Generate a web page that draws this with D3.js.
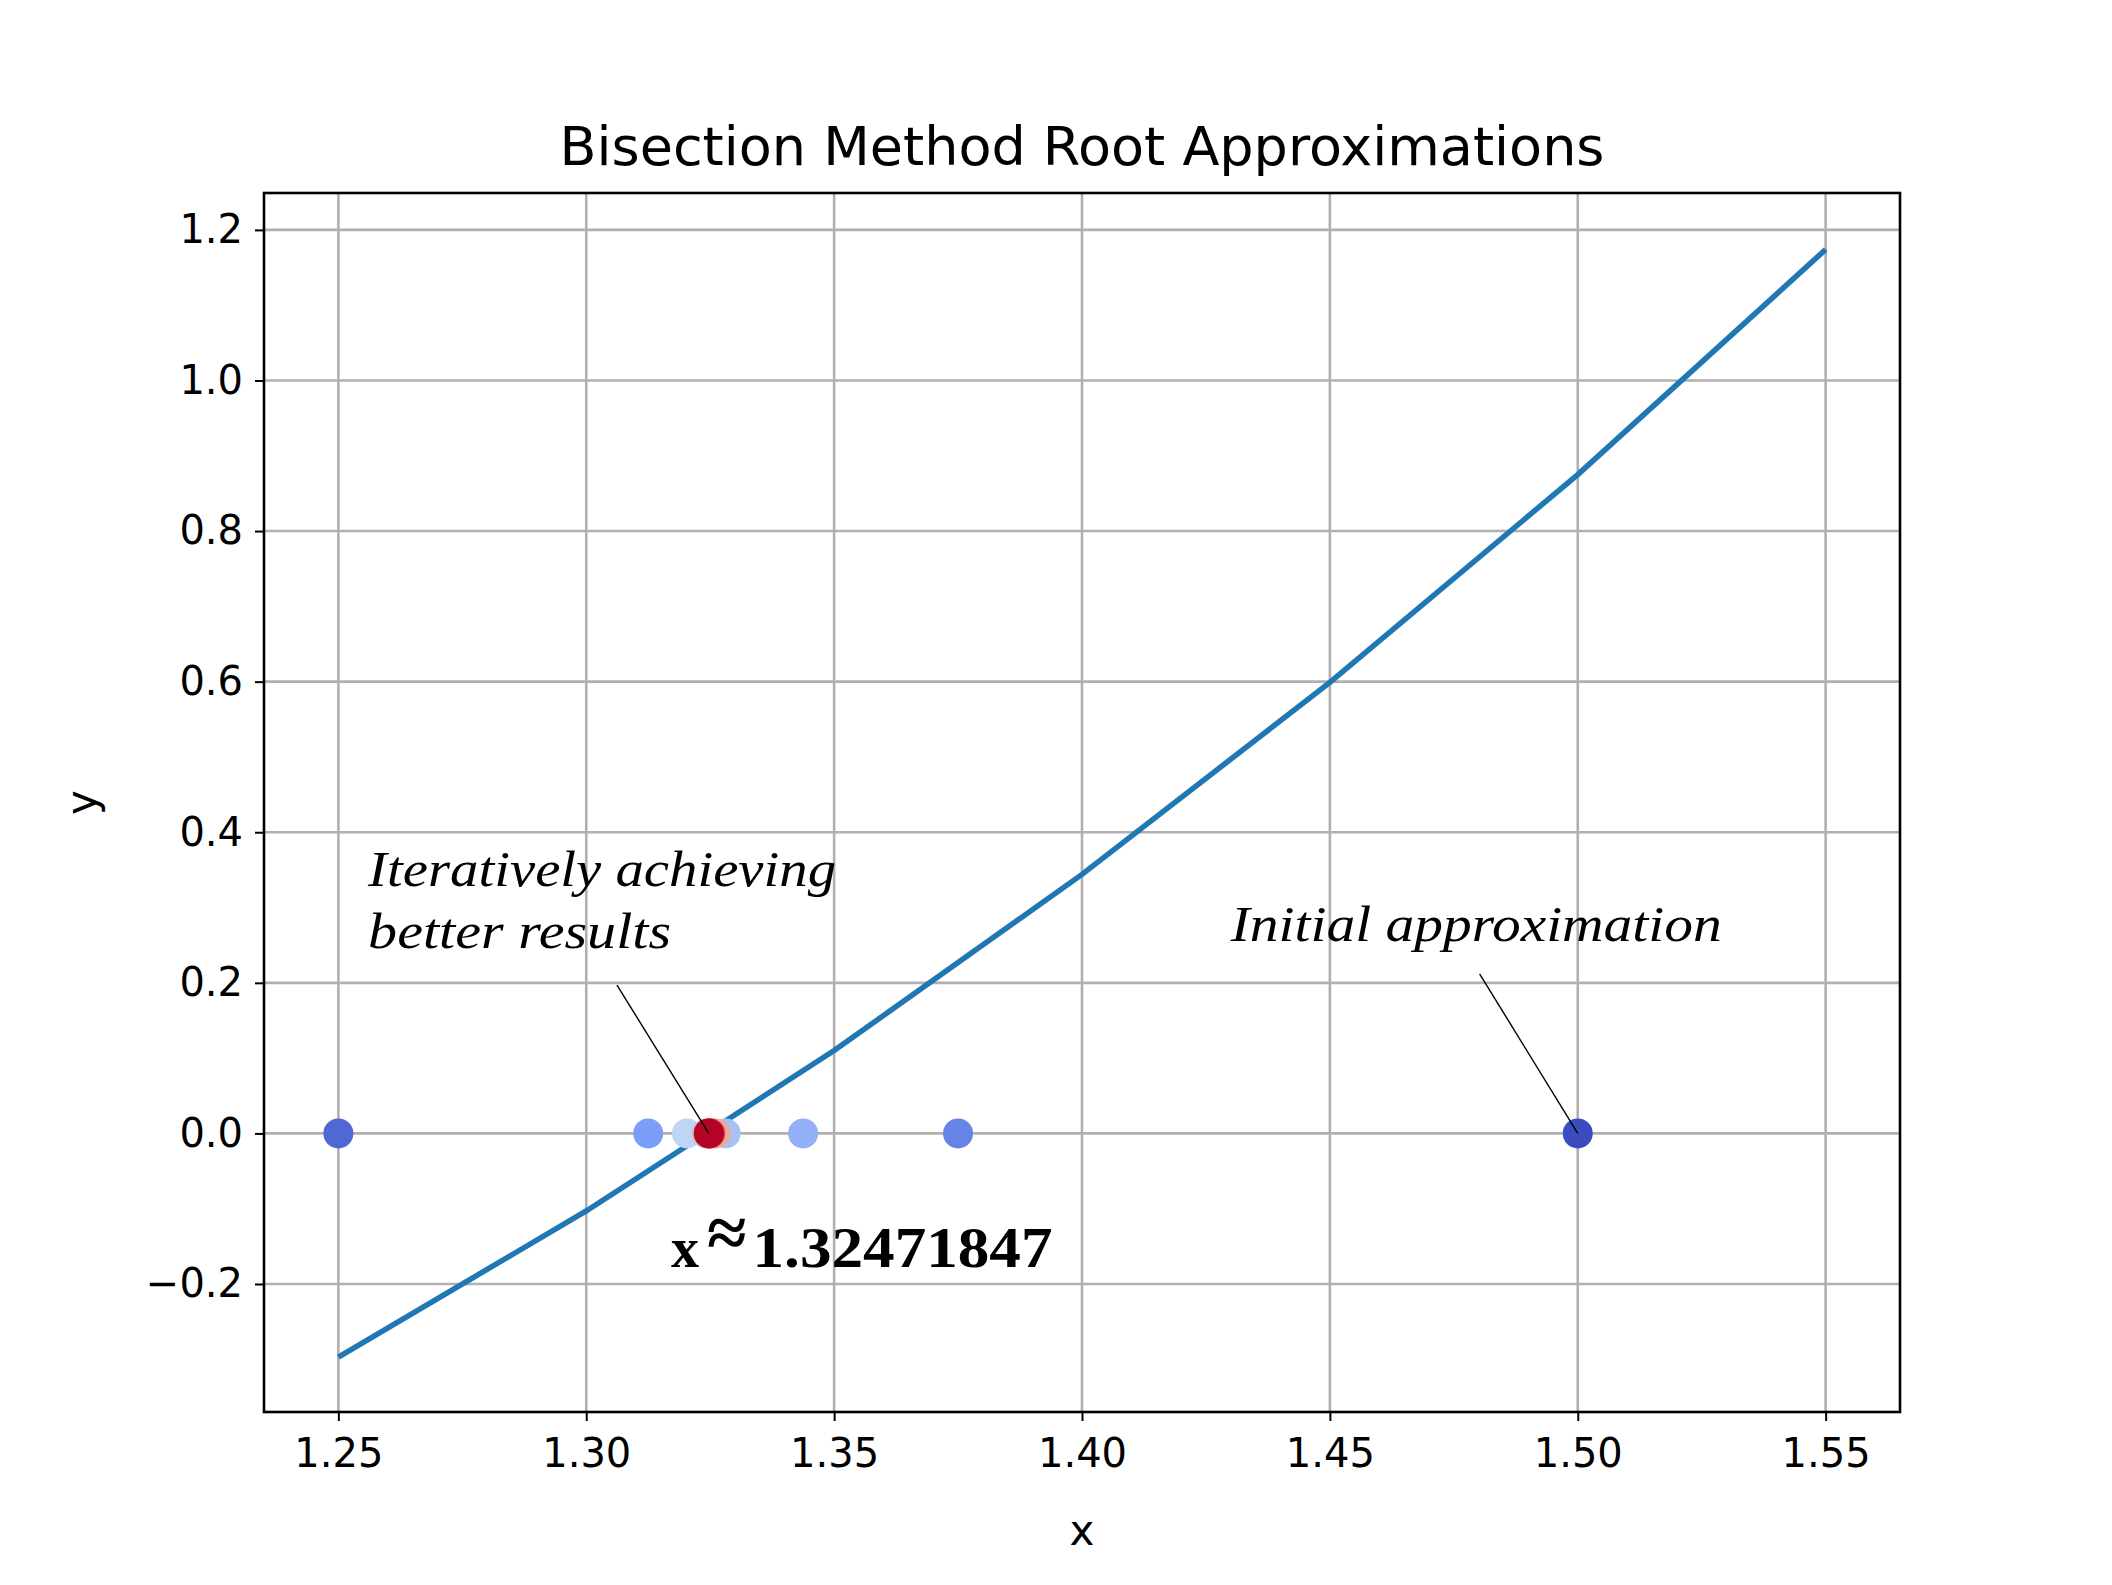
<!DOCTYPE html>
<html><head><meta charset="utf-8">
<script src="https://cdn.jsdelivr.net/npm/d3@7"></script>
<style>body{margin:0;background:#fff}</style>
</head><body><div id="chart"></div>
<script>
const width = 2112, height = 1585;
const margin = {left: 264, right: 212, top: 193, bottom: 173};

// f(x) = x^3 - x - 1 sampled on the plotted grid
const curveX = [1.25, 1.30, 1.35, 1.40, 1.45, 1.50, 1.55];
const curveY = [-0.297, -0.103, 0.110, 0.344, 0.599, 0.875, 1.174];

// bisection midpoints, drawn in iteration order
const approxX = [1.5, 1.25, 1.375, 1.3125, 1.34375, 1.328125, 1.3203125,
  1.32421875, 1.326171875, 1.3251953, 1.3247070, 1.3249512, 1.3247181];

const xTicks = [1.25, 1.30, 1.35, 1.40, 1.45, 1.50, 1.55];
const yTicks = [-0.2, 0.0, 0.2, 0.4, 0.6, 0.8, 1.0, 1.2];
const root = 1.32471847;

const svg = d3.select("#chart").append("svg")
  .attr("width", width).attr("height", height)
  .style("font-family", "DejaVu Sans");

const x = d3.scaleLinear().domain([1.235, 1.565]).range([margin.left, width - margin.right]);
const y = d3.scaleLinear().domain([-0.37, 1.249]).range([height - margin.bottom, margin.top]);

// coolwarm-ish colour map
const coolwarm = d3.scaleLinear()
  .domain([0, 0.25, 0.5, 0.75, 1])
  .range(["#3b4cc0", "#7b9ff9", "#c0d4f5", "#f49a7b", "#b40426"]);

// grid
svg.append("g").selectAll("line").data(xTicks).join("line")
  .attr("x1", d => x(d)).attr("x2", d => x(d))
  .attr("y1", y.range()[1]).attr("y2", y.range()[0])
  .attr("stroke", "#b0b0b0").attr("stroke-width", 2.6);
svg.append("g").selectAll("line").data(yTicks).join("line")
  .attr("y1", d => y(d)).attr("y2", d => y(d))
  .attr("x1", x.range()[0]).attr("x2", x.range()[1])
  .attr("stroke", "#b0b0b0").attr("stroke-width", 2.6);

// axes
const xAxis = svg.append("g").attr("transform", `translate(0,${y.range()[0]})`)
  .call(d3.axisBottom(x).tickValues(xTicks).tickFormat(d3.format(".2f")).tickSize(9).tickPadding(12));
const yAxis = svg.append("g").attr("transform", `translate(${x.range()[0]},0)`)
  .call(d3.axisLeft(y).tickValues(yTicks).tickFormat(d => d3.format(".1f")(d).replace("-", "\u2212")).tickSize(9).tickPadding(12));
[xAxis, yAxis].forEach(a => {
  a.selectAll("text").attr("font-size", 40).attr("font-family", "DejaVu Sans").attr("fill", "#000");
  a.selectAll("line").attr("stroke", "#000").attr("stroke-width", 2);
  a.select(".domain").remove();
});
xAxis.selectAll("text").attr("dy", "0.85em");

// curve
svg.append("path")
  .datum(curveX.map((d, i) => [d, curveY[i]]))
  .attr("d", d3.line().x(d => x(d[0])).y(d => y(d[1])))
  .attr("fill", "none").attr("stroke", "#1f77b4").attr("stroke-width", 5.5);

// approximations
svg.append("g").selectAll("circle").data(approxX).join("circle")
  .attr("cx", d => x(d)).attr("cy", y(0)).attr("r", 15)
  .attr("fill", (d, i) => coolwarm(i / (approxX.length - 1)));

// frame
svg.append("rect")
  .attr("x", x.range()[0]).attr("y", y.range()[1])
  .attr("width", x.range()[1] - x.range()[0]).attr("height", y.range()[0] - y.range()[1])
  .attr("fill", "none").attr("stroke", "#000").attr("stroke-width", 2.6);

// titles
svg.append("text").attr("x", (x.range()[0] + x.range()[1]) / 2).attr("y", 165)
  .attr("text-anchor", "middle").attr("font-size", 54).text("Bisection Method Root Approximations");
svg.append("text").attr("x", (x.range()[0] + x.range()[1]) / 2).attr("y", 1545)
  .attr("text-anchor", "middle").attr("font-size", 42).text("x");
svg.append("text").attr("transform", `translate(96,${(y.range()[0] + y.range()[1]) / 2}) rotate(-90)`)
  .attr("text-anchor", "middle").attr("font-size", 42).text("y");

// annotations
const notes = [
  {lines: ["Iteratively achieving", "better results"], tx: 1.256, ty: [0.329, 0.246], lens: [468, 303],
   from: [1.3062, 0.197], to: [root, 0]},
  {lines: ["Initial approximation"], tx: 1.430, ty: [0.255], lens: [491],
   from: [1.4802, 0.212], to: [1.5, 0]}
];
notes.forEach(n => {
  n.lines.forEach((t, i) => {
    svg.append("text").attr("x", x(n.tx)).attr("y", y(n.ty[i]))
      .attr("font-family", "Liberation Serif").attr("font-style", "italic").attr("font-size", 50)
      .attr("textLength", n.lens[i]).attr("lengthAdjust", "spacingAndGlyphs").text(t);
  });
  svg.append("line")
    .attr("x1", x(n.from[0])).attr("y1", y(n.from[1]))
    .attr("x2", x(n.to[0])).attr("y2", y(n.to[1]))
    .attr("stroke", "#000").attr("stroke-width", 1.4);
});

const res = svg.append("text").attr("x", x(1.3171)).attr("y", y(-0.178))
  .attr("font-family", "Liberation Serif").attr("font-weight", "bold").attr("font-size", 56);
res.append("tspan").text("x");
res.append("tspan").attr("font-size", 72).attr("dx", 8).attr("dy", -10).text("\u2248");
res.append("tspan").attr("dx", 6).attr("dy", 10).attr("textLength", 300).attr("lengthAdjust", "spacingAndGlyphs")
  .text(root.toFixed(8));
</script></body></html>
